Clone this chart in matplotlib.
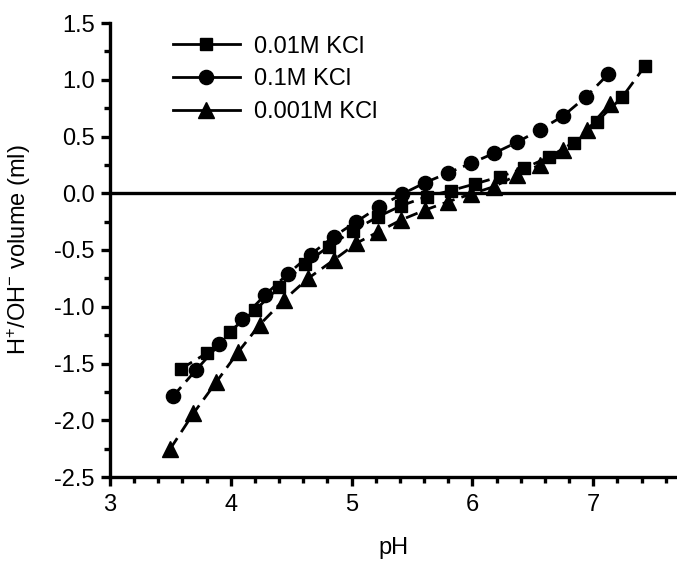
import matplotlib
matplotlib.use("Agg")
import matplotlib.pyplot as plt
from matplotlib.ticker import MultipleLocator, FormatStrFormatter
from matplotlib.lines import Line2D

plt.rcParams['font.family'] = ['Liberation Sans', 'DejaVu Sans']
plt.rcParams['mathtext.fontset'] = 'custom'
plt.rcParams['mathtext.rm'] = 'Liberation Sans'
plt.rcParams['mathtext.it'] = 'Liberation Sans'
plt.rcParams['mathtext.bf'] = 'Liberation Sans'

# Data
ph_001 = [3.59, 3.80, 3.99, 4.20, 4.40, 4.61, 4.81, 5.01, 5.22, 5.41, 5.62, 5.82,
          6.02, 6.23, 6.43, 6.63, 6.84, 7.03, 7.24, 7.43]
vol_001 = [-1.545, -1.41, -1.22, -1.03, -0.83, -0.624, -0.47, -0.33, -0.206, -0.11,
           -0.03, 0.023, 0.082, 0.147, 0.22, 0.318, 0.447, 0.632, 0.847, 1.123]

ph_01 = [3.52, 3.71, 3.905, 4.09, 4.28, 4.47, 4.66, 4.85, 5.04, 5.23, 5.42, 5.61,
         5.80, 5.99, 6.18, 6.37, 6.56, 6.75, 6.94, 7.125]
vol_01 = [-1.79, -1.56, -1.33, -1.11, -0.90, -0.712, -0.54, -0.383, -0.25, -0.118,
          -0.006, 0.094, 0.18, 0.265, 0.353, 0.45, 0.56, 0.68, 0.85, 1.05]

ph_0001 = [3.50, 3.69, 3.88, 4.06, 4.24, 4.44, 4.64, 4.85, 5.04, 5.22, 5.41, 5.61,
           5.80, 5.99, 6.18, 6.37, 6.56, 6.75, 6.95, 7.14]
vol_0001 = [-2.25, -1.94, -1.663, -1.40, -1.157, -0.94, -0.75, -0.59, -0.44, -0.34,
            -0.235, -0.147, -0.074, -0.006, 0.059, 0.16, 0.25, 0.38, 0.56, 0.79]

labels = ['0.01M KCl', '0.1M KCl', '0.001M KCl']

fig = plt.figure(figsize=(6.77, 5.64), dpi=100)
ax = fig.add_axes([110/677, 87/564, 566/677, 454/564])

FS = 17
lw = 2.0
dash = (0, (4.5, 2.6))
series = [(ph_001, vol_001, 's', 9.2), (ph_01, vol_01, 'o', 10.2), (ph_0001, vol_0001, '^', 11.0)]
for (x, y, m, ms), lab in zip(series, labels):
    ax.plot(x, y, color='black', linestyle=dash, linewidth=lw, marker=m,
            markersize=ms, markerfacecolor='black', markeredgecolor='black')

handles = [Line2D([], [], color='black', linewidth=lw, marker=m, markersize=ms)
           for (_, _, m, ms) in series]
ax.legend(handles, labels, loc='upper left', bbox_to_anchor=(0.111, 0.972),
          frameon=False, fontsize=FS, handlelength=2.85, handletextpad=0.6,
          labelspacing=0.45, borderpad=0, borderaxespad=0)

ax.axhline(0, color='black', linewidth=2.4)

ax.set_xlim(3, 7.685)
ax.set_ylim(-2.5, 1.5)
ax.xaxis.set_major_locator(MultipleLocator(1))
ax.xaxis.set_minor_locator(MultipleLocator(0.2))
ax.yaxis.set_major_locator(MultipleLocator(0.5))
ax.yaxis.set_minor_locator(MultipleLocator(0.25))
ax.yaxis.set_major_formatter(FormatStrFormatter('%.1f'))

for s in ['top', 'right']:
    ax.spines[s].set_visible(False)
for s in ['left', 'bottom']:
    ax.spines[s].set_linewidth(2.4)

ax.tick_params(which='major', direction='out', length=6.5, width=2.4, labelsize=FS)
ax.tick_params(axis='x', which='major', pad=6)
ax.tick_params(axis='y', which='major', pad=4.5)
ax.tick_params(which='minor', direction='out', length=4, width=2.4)

ax.set_xlabel('pH', fontsize=FS, labelpad=15)
ax.set_ylabel(r'H$^{+}$/OH$^{-}$ volume (ml)', fontsize=FS, labelpad=15)

fig.savefig('out.png', dpi=100)
